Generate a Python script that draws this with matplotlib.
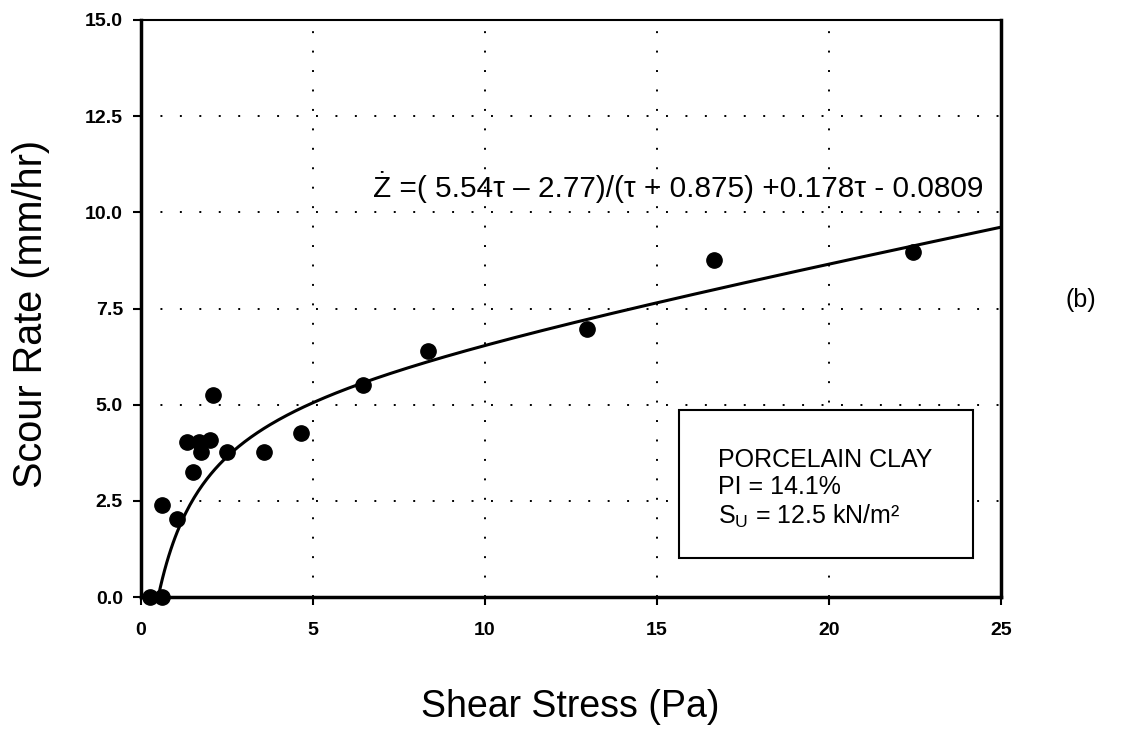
import numpy as np
import matplotlib
matplotlib.use("Agg")
import matplotlib.pyplot as plt
from matplotlib.patches import Rectangle

plt.rcParams['font.family'] = ['Liberation Sans', 'DejaVu Sans']
plt.rcParams['mathtext.fontset'] = 'custom'
plt.rcParams['mathtext.rm'] = 'Liberation Sans'
plt.rcParams['mathtext.it'] = 'Liberation Sans'

shear = [0.26, 0.61, 0.60, 1.04, 1.33, 1.50, 1.69, 1.74, 1.99, 2.08,
         2.50, 3.56, 4.64, 6.45, 8.34, 12.97, 16.66, 22.44]
scour = [0.0, 0.0, 2.38, 2.02, 4.02, 3.26, 4.04, 3.77, 4.09, 5.24,
         3.78, 3.78, 4.26, 5.50, 6.39, 6.97, 8.77, 8.98]

# fitted curve coefficients printed on the chart
fit_a, fit_b, fit_c, fit_d, fit_e = 5.54, 2.77, 0.875, 0.178, 0.0809
fit_start, fit_end = 0.5, 25.0

xticks = [0, 5, 10, 15, 20, 25]
yticks = [0.0, 2.5, 5.0, 7.5, 10.0, 12.5, 15.0]

fig = plt.figure(figsize=(11.23, 7.29), dpi=100)
ax = fig.add_axes([0.1256, 0.181, 0.7658, 0.7916])

tau = np.linspace(fit_start, fit_end, 400)
zfit = (fit_a * tau - fit_b) / (tau + fit_c) + fit_d * tau - fit_e
ax.plot(tau, zfit, color='black', lw=2.2, zorder=3)
ax.plot(shear, scour, 'o', color='black', ms=11, zorder=4, clip_on=False)

ax.set_xlim(0, 25)
ax.set_ylim(0, 15)
ax.set_xticks(xticks)
ax.set_yticks(yticks)
ax.set_yticklabels([f'{v:.1f}' for v in yticks])
ax.tick_params(direction='out', length=6, width=1.5, labelsize=14, pad=7)
ax.tick_params(axis='x', pad=12)
for lab in ax.get_xticklabels() + ax.get_yticklabels():
    lab.set_fontweight('bold')

ax.grid(True, color='black', linestyle=(0, (1, 9)), linewidth=1.4)
for side in ['left', 'bottom', 'right']:
    ax.spines[side].set_linewidth(2.5)
ax.spines['top'].set_linewidth(1.5)

ax.set_xlabel('Shear Stress (Pa)', fontsize=27)
ax.set_ylabel('Scour Rate (mm/hr)', fontsize=28.5)
ax.xaxis.set_label_coords(0.499, -0.19)
ax.yaxis.set_label_coords(-0.128, 0.49)
ax.xaxis.label.set_va('center')
ax.yaxis.label.set_va('center')

ax.text(6.75, 10.65, 'Ż =( 5.54τ – 2.77)/(τ + 0.875) +0.178τ - 0.0809',
        fontsize=21.4, ha='left', va='center')

box = Rectangle((15.64, 1.01), 8.55, 3.85, facecolor='white',
                edgecolor='black', linewidth=1.5, zorder=5)
ax.add_patch(box)
ax.text(16.77, 2.81, 'PORCELAIN CLAY\nPI = 14.1%\nS$_\\mathrm{U}$ = 12.5 kN/m²',
        fontsize=18, ha='left', va='center', linespacing=1.18, zorder=6)

fig.text(0.962, 0.588, '(b)', fontsize=18, ha='center', va='center')

fig.savefig('out.png', dpi=100)
